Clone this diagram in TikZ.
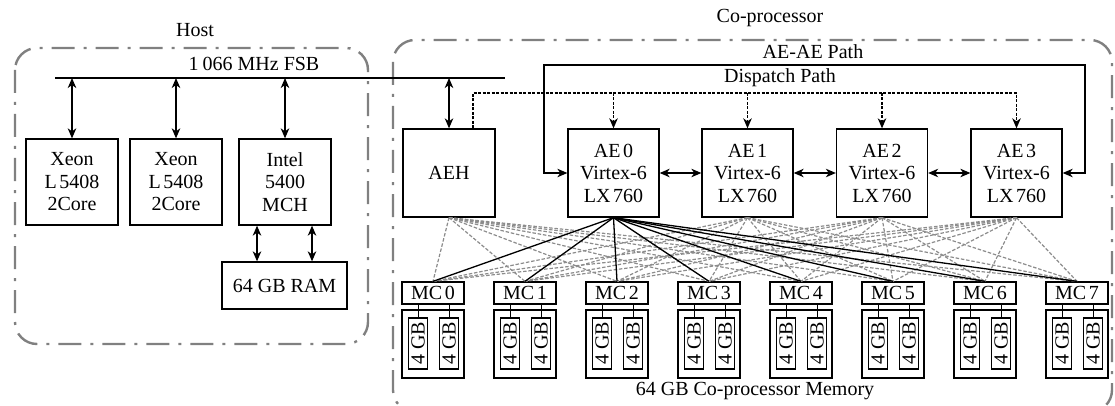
\documentclass[tikz,border=0pt]{standalone}
\usepackage{fontspec}
\setmainfont{Liberation Serif}
\usetikzlibrary{arrows.meta}
\newcommand{\tsp}{\hspace{2.5pt}}
\begin{document}
\begin{tikzpicture}[x=1pt,y=-1pt,
  every node/.style={font=\fontsize{20}{22.5}\selectfont},
  blk/.style={draw, line width=1.3pt, fill=white, inner sep=0pt, align=center},
  container/.style={draw=gray, line width=2.4pt, rounded corners=22pt, dash pattern=on 23pt off 9pt on 3pt off 9pt},
  tip/.tip={Stealth[length=10pt,width=8.5pt,inset=3pt]},
  barr/.style={tip-tip, line width=1.3pt},
  disp/.style={line width=1.4pt, dash pattern=on 3pt off 1.5pt},
  gdash/.style={draw=gray!90, line width=1.2pt, dash pattern=on 3.5pt off 1.8pt},
  mcline/.style={line width=1.3pt}
]
\useasboundingbox (0,0) rectangle (1115,406);

% containers
\draw[container] (15,48) rectangle (368,344);
\draw[container] (393,40) rectangle (1112,412);
\node (hostlbl) at (195,30) {Host};
\node (coplbl) at (770,18) {Co-processor};

% FSB
\coordinate (fsbL) at (55,78);
\coordinate (fsbR) at (505,78);
\draw[line width=1.3pt] (fsbL) -- (fsbR);
\node (fsblbl) at (254,64) {1\hspace{4pt}066 MHz FSB};

% host boxes
\node[blk, minimum width=92pt, minimum height=86pt] (xeon1) at (72,182) {Xeon\\L\tsp5408\\2Core};
\node[blk, minimum width=92pt, minimum height=86pt] (xeon2) at (176,182) {Xeon\\L\tsp5408\\2Core};
\node[blk, minimum width=92pt, minimum height=86pt] (mch) at (285,182) {Intel\\5400\\MCH};
\node[blk, minimum width=125pt, minimum height=47pt] (ram) at (284.5,285.5) {64 GB RAM};

\foreach \n in {xeon1,xeon2,mch}
  \draw[barr] (\n.north |- fsbL) -- (\n.north);
\draw[barr] ([xshift=-28pt]mch.south) -- ([xshift=-28pt]mch.south |- ram.north);
\draw[barr] ([xshift=27pt]mch.south) -- ([xshift=27pt]mch.south |- ram.north);

% MCs and memory
\foreach \i in {0,...,7}{
  \pgfmathsetmacro{\cx}{433+92*\i}
  \node[blk, minimum width=62pt, minimum height=22pt] (mc\i) at (\cx,293) {MC\tsp\i};
  \node[blk, minimum width=62pt, minimum height=68pt] (mem\i) at (\cx,344) {};
  \node[blk, minimum width=19pt, minimum height=51pt] (da\i) at (\cx-15,343.5) {\rotatebox{90}{4 GB}};
  \node[blk, minimum width=19pt, minimum height=51pt] (db\i) at (\cx+16,343.5) {\rotatebox{90}{4 GB}};
  \draw[line width=1pt] (da\i.north) -- (da\i.north |- mc\i.south);
  \draw[line width=1pt] (db\i.north) -- (db\i.north |- mc\i.south);
}
\node (memlbl) at (755,391) {64 GB Co-processor Memory};

% AE boxes
\node[blk, minimum width=92pt, minimum height=88pt] (aeh) at (449,173) {AEH};
\node[blk, minimum width=91pt, minimum height=88pt] (ae0) at (613.5,173) {AE\tsp0\\Virtex-6\\LX\tsp760};
\node[blk, minimum width=91pt, minimum height=88pt] (ae1) at (747.5,173) {AE\tsp1\\Virtex-6\\LX\tsp760};
\node[blk, minimum width=91pt, minimum height=88pt] (ae2) at (882,173) {AE\tsp2\\Virtex-6\\LX\tsp760};
\node[blk, minimum width=91pt, minimum height=88pt] (ae3) at (1016.5,173) {AE\tsp3\\Virtex-6\\LX\tsp760};

% MC connections
\foreach \s in {aeh,ae1,ae2,ae3}
  \foreach \i in {0,...,7}
    \draw[gdash] (\s.south) -- (mc\i.north);
\foreach \i in {0,...,7}
  \draw[mcline] (ae0.south) -- (mc\i.north);

% FSB to AEH
\draw[barr] (aeh.north |- fsbL) -- (aeh.north);

% dispatch path
\coordinate (dispY) at (473,93);
\draw[disp, -tip] ([xshift=24pt]aeh.north) -- (dispY) -- (ae3.north |- dispY) -- (ae3.north);
\foreach \n in {ae0,ae1,ae2}
  \draw[disp, -tip] (\n.north |- dispY) -- (\n.north);
\node (displbl) at (780,78) {Dispatch Path};

% AE-AE path
\coordinate (aeL) at (544,65);
\coordinate (aeR) at (1085,65);
\draw[barr] (ae0.west) -| (aeL) -- (aeR) |- (ae3.east);
\node (aepathlbl) at (813,52) {AE-AE Path};

\draw[barr] (ae0.east) -- (ae1.west);
\draw[barr] (ae1.east) -- (ae2.west);
\draw[barr] (ae2.east) -- (ae3.west);
\end{tikzpicture}
\end{document}
